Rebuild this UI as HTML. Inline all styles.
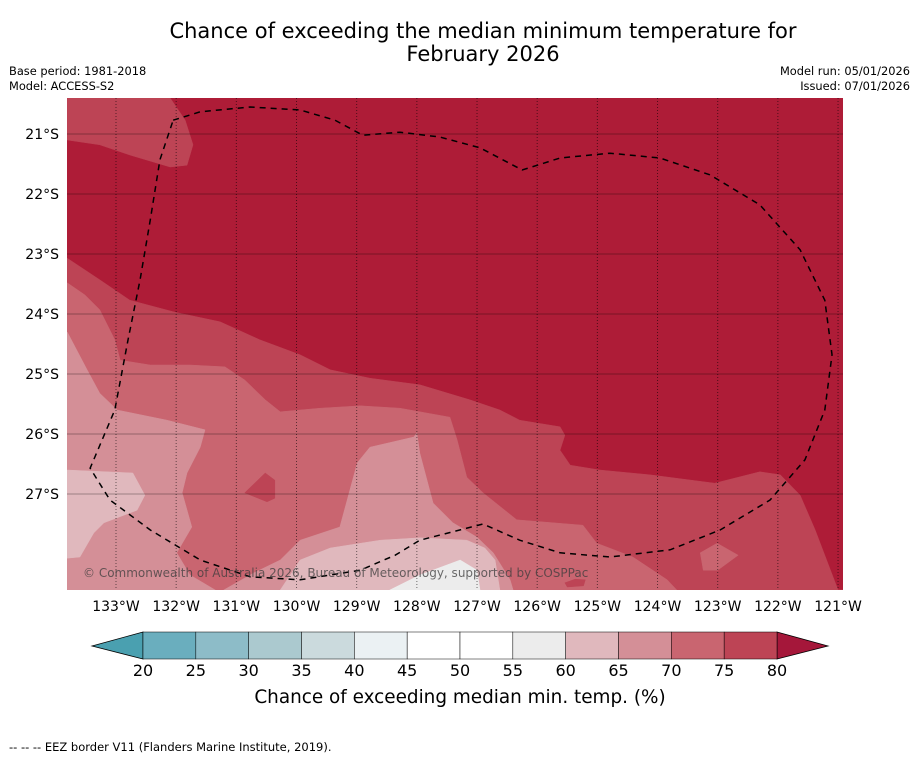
<!DOCTYPE html>
<html><head><meta charset="utf-8"><style>
body{margin:0;background:#fff;font-family:"Liberation Sans",sans-serif;}
svg{display:block}
text{font-family:"DejaVu Sans","Liberation Sans",sans-serif;}
</style></head><body>
<svg id="c" width="919" height="758" viewBox="0 0 919 758">
<text x="483" y="38" text-anchor="middle" font-size="21">Chance of exceeding the median minimum temperature for</text>
<text x="483" y="61" text-anchor="middle" font-size="21">February 2026</text>
<text x="9" y="75" font-size="11.4">Base period: 1981-2018</text>
<text x="9" y="90" font-size="11.4">Model: ACCESS-S2</text>
<text x="910" y="75" font-size="11.4" text-anchor="end">Model run: 05/01/2026</text>
<text x="910" y="90" font-size="11.4" text-anchor="end">Issued: 07/01/2026</text>
<defs><clipPath id="mc"><rect x="67" y="98" width="776" height="492"/></clipPath></defs>
<g id="map" clip-path="url(#mc)"></g>
<g id="axes"></g>
<g id="cbar"></g>
<text x="460" y="703" text-anchor="middle" font-size="18.4">Chance of exceeding median min. temp. (%)</text>
<text x="9" y="751" font-size="11.5">--  --  -- EEZ border V11 (Flanders Marine Institute, 2019).</text>
</svg>
<script>
// axis extents (°W, °S)
const lonTicks=[133,132,131,130,129,128,127,126,125,124,123,122,121];
const latTicks=[21,22,23,24,25,26,27];
const levels=[20,25,30,35,40,45,50,55,60,65,70,75,80];
const levelColors=['#6aaebe','#8dbcc8','#abc9cf','#cbdadd','#ebf1f3','#ffffff','#ffffff','#ececec','#e0b8bd','#d48f97','#c96570','#bd4455'];
// contour regions [lonW, latS] with level
const reg75=[[133.81,23.07],[133.27,23.43],[132.77,23.77],[132.02,23.97],[131.27,24.13],[130.61,24.43],[129.94,24.68],[129.44,24.93],[128.78,25.07],[127.95,25.18],[127.12,25.43],[126.62,25.6],[126.29,25.77],[125.62,25.88],[125.54,26.02],[125.62,26.27],[125.45,26.52],[124.96,26.6],[124.13,26.68],[123.05,26.82],[122.3,26.63],[121.96,26.68],[121.63,27.02],[121.38,27.6],[121.0,28.6],[120.92,28.6],[133.81,28.6]];
const reg75b=[[133.81,20.4],[132.1,20.4],[131.85,20.77],[131.72,21.18],[131.82,21.52],[132.1,21.55],[132.77,21.35],[133.27,21.18],[133.81,21.1]];
const reg70=[[133.81,23.48],[133.52,23.68],[133.27,23.93],[133.02,24.43],[132.93,24.77],[132.43,24.85],[131.77,24.85],[131.19,24.88],[130.86,25.1],[130.52,25.43],[130.27,25.63],[129.61,25.57],[128.94,25.53],[128.28,25.57],[127.45,25.72],[127.33,26.1],[127.17,26.72],[126.9,26.98],[126.34,27.43],[125.24,27.52],[125.01,27.82],[124.41,28.05],[123.84,28.43],[123.68,28.6],[133.81,28.6]];
const reg70b=[[123.29,27.98],[123.01,27.82],[122.66,28.02],[123.0,28.27],[123.24,28.27]];
const reg75c=[[130.86,26.98],[130.52,26.65],[130.36,26.77],[130.36,27.07],[130.49,27.13]];
const reg75d=[[125.54,28.48],[125.37,28.42],[125.2,28.43],[125.23,28.53],[125.5,28.55]];
const reg65=[[133.81,24.3],[133.48,24.93],[133.27,25.32],[132.98,25.6],[132.15,25.77],[131.52,25.93],[131.6,26.22],[131.82,26.65],[131.9,26.98],[131.74,27.55],[131.99,27.98],[131.77,28.35],[131.35,28.6],[133.81,28.6]];
const reg65b=[[131.21,28.6],[130.72,28.32],[130.27,28.1],[129.94,27.77],[129.28,27.55],[128.99,26.48],[128.78,26.22],[128.05,26.05],[128.0,25.98],[127.95,26.32],[127.73,27.15],[127.4,27.48],[127.0,27.72],[126.73,27.98],[126.45,28.43],[126.4,28.6]];
const reg60=[[133.81,26.6],[132.72,26.65],[132.52,27.02],[132.65,27.27],[133.2,27.48],[133.37,27.65],[133.6,28.05],[133.81,28.07]];
const reg60b=[[130.27,28.6],[129.94,28.1],[129.44,27.9],[128.61,27.77],[127.95,27.73],[127.17,27.77],[126.87,27.9],[126.7,28.1],[126.62,28.6]];
const reg55=[[128.45,28.6],[127.95,28.35],[127.28,28.1],[127.0,28.27],[126.95,28.6]];
const eez=[[132.05,20.77],[131.6,20.63],[130.77,20.55],[129.94,20.6],[129.36,20.77],[128.9,21.02],[128.28,20.97],[127.62,21.05],[126.95,21.23],[126.25,21.6],[125.62,21.4],[124.79,21.32],[123.96,21.4],[123.13,21.68],[122.3,22.18],[121.63,22.93],[121.22,23.77],[121.1,24.68],[121.22,25.6],[121.55,26.43],[122.13,27.1],[122.96,27.6],[123.79,27.93],[124.79,28.05],[125.62,27.98],[126.29,27.77],[126.9,27.5],[127.95,27.77],[128.36,28.02],[128.94,28.27],[129.94,28.43],[130.77,28.38],[131.6,28.1],[132.43,27.6],[133.1,27.1],[133.43,26.57],[133.02,25.6],[132.8,24.43],[132.6,23.43],[132.43,22.43],[132.27,21.43],[132.05,20.77]];

const NS='http://www.w3.org/2000/svg';
const X=lon=>116+(133-lon)*60.17;
const Y=lat=>134+(lat-21)*60;
function mk(tag,parent,attrs){const e=document.createElementNS(NS,tag);for(const k in attrs)e.setAttribute(k,attrs[k]);parent.appendChild(e);return e;}
const map=document.getElementById('map');
const bg=mk('rect',map,{x:67,y:98,width:776,height:492,fill:'#ae1c37'});


const colorOf=v=>levelColors[levels.indexOf(v)];
const regions=[[reg75,75,'region-75-80'],[reg75b,75,'region-75-80-nw'],[reg70,70,'region-70-75'],[reg70b,70,'region-70-75-island'],[reg75c,75,'region-75-80-island'],[reg75d,75,'region-75-80-small'],[reg65,65,'region-65-70-west'],[reg65b,65,'region-65-70-south'],[reg60,60,'region-60-65-west'],[reg60b,60,'region-60-65-south'],[reg55,55,'region-55-60']];
regions.forEach(([pts,v,name])=>{
  const p=mk('polygon',map,{points:pts.map(q=>X(q[0])+','+Y(q[1])).join(' '),fill:colorOf(v),stroke:colorOf(v),'stroke-width':0.5});
  
  
});
latTicks.forEach(l=>{
  const ln=mk('line',map,{x1:67,x2:843,y1:Y(l),y2:Y(l),stroke:'rgba(0,0,0,0.3)','stroke-width':1});
  
  
});
lonTicks.forEach(l=>{
  const ln=mk('line',map,{x1:X(l),x2:X(l),y1:98,y2:590,stroke:'rgba(0,0,0,0.55)','stroke-width':1,'stroke-dasharray':'1,2'});
  
  
});
const eL=mk('polyline',map,{points:eez.map(q=>X(q[0])+','+Y(q[1])).join(' '),fill:'none',stroke:'#000','stroke-width':1.5,'stroke-dasharray':'6,5'});


const cp=mk('text',map,{x:83,y:577,'font-size':12,fill:'rgba(60,60,60,0.75)'});
cp.textContent='© Commonwealth of Australia 2026, Bureau of Meteorology, supported by COSPPac';



const ax=document.getElementById('axes');
latTicks.forEach(l=>{
  const t=mk('text',ax,{x:59,y:Y(l)+5,'text-anchor':'end','font-size':14});
  t.textContent=l+'°S';
  
  
});
lonTicks.forEach(l=>{
  const t=mk('text',ax,{x:X(l),y:611,'text-anchor':'middle','font-size':14});
  t.textContent=l+'°W';
  
  
});

const cb=document.getElementById('cbar');
const C=v=>143+(v-20)*(634/60);
const lo=mk('polygon',cb,{points:`92,646 ${C(20)},632 ${C(20)},659`,fill:'#4aa0b0',stroke:'#000','stroke-width':0.8});


const hi=mk('polygon',cb,{points:`828,646 ${C(80)},632 ${C(80)},659`,fill:'#a5173a',stroke:'#000','stroke-width':0.8});


for(let i=0;i<levels.length-1;i++){
  const r=mk('rect',cb,{x:C(levels[i]),y:632,width:C(levels[i+1])-C(levels[i]),height:27,fill:levelColors[i],stroke:'#000','stroke-width':0.5});
  
  
}
levels.forEach(v=>{
  const t=mk('text',cb,{x:C(v),y:676,'text-anchor':'middle','font-size':16});
  t.textContent=v;
  
  
});
</script>
</body></html>
